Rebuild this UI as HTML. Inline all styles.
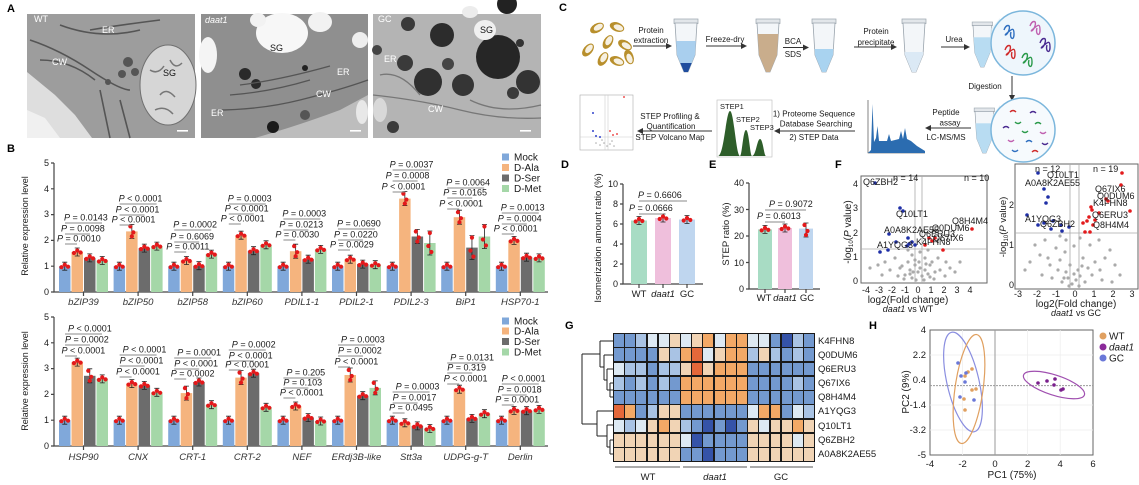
<!DOCTYPE html>
<html><head><meta charset="utf-8"><style>
html,body{margin:0;padding:0;background:#fff;}
body{width:1139px;height:485px;position:relative;overflow:hidden;font-family:"Liberation Sans",sans-serif;}
svg{position:absolute;left:0;top:0;}
text{font-family:"Liberation Sans",sans-serif;font-size:9px;fill:#1a1a1a;}
.i{font-style:italic;}
.L{font-size:11px;font-weight:bold;fill:#000;}
.a{fill:#80a8da}.b{fill:#f5b47e}.c{fill:#6c6c6c}.d{fill:#a5d7a8}
.ul{stroke:#8a8a8a;stroke-width:1;fill:none}
.ax{stroke:#444;stroke-width:1.2;fill:none}
.g{font-style:italic;font-size:9.5px;fill:#333}
.w{fill:#fff;font-size:9px}
.cw text{font-size:8px}
.hm{position:absolute;left:613px;top:333px;width:202px;height:129px;display:grid;grid-template-columns:repeat(18,1fr);grid-template-rows:repeat(9,1fr);gap:1.3px;background:#1a1a1a;padding:1px;box-sizing:border-box;}
.hm i{display:block}
.D{background:#3553a8}.M{background:#7399cf}.B{background:#a9c3e4}.V{background:#dde9f3}.O1{background:#f1d4b5}.O{background:#f3a966}.R{background:#e4683a}
</style></head><body>
<svg width="1139" height="485" viewBox="0 0 1139 485" xmlns="http://www.w3.org/2000/svg">
<defs>
<g id="e"><path d="M0,-4V4M-2.5,-4H2.5M-2.5,4H2.5" stroke="#222" stroke-width=".8" fill="none"/><circle cx="-3.3" cy="1" r="2.1" fill="#e3191b"/><circle cx="0" cy="-1.5" r="2.1" fill="#e3191b"/><circle cx="3.3" cy=".5" r="2.1" fill="#e3191b"/></g>
<g id="m"><path d="M0,-7V7M-2.5,-7H2.5M-2.5,7H2.5" stroke="#222" stroke-width=".8" fill="none"/><circle cx="-1.5" cy="-5" r="2.1" fill="#e3191b"/><circle cx="1.5" cy="1" r="2.1" fill="#e3191b"/><circle cx="0" cy="5" r="2.1" fill="#e3191b"/></g>
<g id="E"><path d="M0,-12V12M-2.5,-12H2.5M-2.5,12H2.5" stroke="#222" stroke-width=".8" fill="none"/><circle cx="0" cy="-10" r="2.1" fill="#e3191b"/><circle cx="-1.5" cy="3" r="2.1" fill="#e3191b"/><circle cx="1.5" cy="9" r="2.1" fill="#e3191b"/></g>
<marker id="ar" markerWidth="6" markerHeight="6" refX="5" refY="3" orient="auto"><path d="M0,0L6,3L0,6Z" fill="#333"/></marker>
<clipPath id="tb"><path d="M0,4H22L20,36L13,53H9L2,36Z"/></clipPath>
<g id="tube"><rect x="-1" y="0" width="24" height="4.5" fill="#e2e6ea" stroke="#9aa4ad" stroke-width=".7"/><path d="M0,4H22L20,36L13,53H9L2,36Z" fill="#f3f6f9" stroke="#9aa4ad" stroke-width=".8"/></g>
</defs>

<!-- Panel labels -->
<text class="L" x="7" y="12">A</text>
<text class="L" x="7" y="152">B</text>
<text class="L" x="559" y="11">C</text>
<text class="L" x="561" y="168">D</text>
<text class="L" x="709" y="168">E</text>
<text class="L" x="835" y="168">F</text>
<text class="L" x="565" y="329">G</text>
<text class="L" x="869" y="329">H</text>

<!-- Panel A: TEM images -->
<g>
<rect x="27" y="14" width="168" height="124" fill="#9d9d9d"/>
<path d="M27,72 L55,95 L75,115 L92,138 L27,138Z" fill="#dedede"/>
<path d="M27,110 L45,118 L60,138 L27,138Z" fill="#f0f0f0"/>
<ellipse cx="168" cy="85" rx="28" ry="40" fill="#d6d6d6" stroke="#707070" stroke-width="1"/>
<path d="M150,70 q8,5 14,-4 M160,95 q6,-8 15,2 M170,60 q5,10 12,3 M155,110 q10,-5 18,4" stroke="#777" stroke-width="1.5" fill="none"/>
<path d="M30,40 Q60,50 90,70 T130,90 M40,60 Q70,60 95,80 M90,30 Q120,25 160,20 M60,25 Q100,40 140,30 M120,100 L130,138 M100,90 L110,138" stroke="#555" stroke-width="1.6" fill="none"/>
<circle cx="128" cy="62" r="5" fill="#555"/><circle cx="135" cy="72" r="4" fill="#555"/><circle cx="122" cy="74" r="4" fill="#555"/><circle cx="108" cy="82" r="3" fill="#555"/>
<rect x="177" y="130" width="11" height="1.6" fill="#fff"/>
<text class="w" x="34" y="22">WT</text><text class="w" x="102" y="33">ER</text><text class="w" x="52" y="65">CW</text><text x="163" y="76" style="font-size:9px;fill:#111">SG</text>

<rect x="201" y="14" width="167" height="124" fill="#8f8f8f"/>
<path d="M255,138 Q300,125 340,110 L368,95 L368,138Z" fill="#bdbdbd"/>
<ellipse cx="282" cy="33" rx="26" ry="20" fill="#f7f7f7"/>
<ellipse cx="320" cy="22" rx="12" ry="10" fill="#f2f2f2"/>
<ellipse cx="258" cy="20" rx="8" ry="7" fill="#f2f2f2"/>
<ellipse cx="208" cy="55" rx="9" ry="18" fill="#f4f4f4"/>
<ellipse cx="360" cy="40" rx="8" ry="8" fill="#eee"/>
<ellipse cx="362" cy="112" rx="6" ry="12" fill="#e8e8e8"/>
<circle cx="245" cy="74" r="6" fill="#2a2a2a"/><circle cx="256" cy="84" r="5" fill="#2a2a2a"/><circle cx="273" cy="127" r="6" fill="#1a1a1a"/><circle cx="305" cy="68" r="3" fill="#222"/><circle cx="305" cy="115" r="5" fill="#555"/>
<path d="M215,110 Q260,110 300,100 T368,80 M230,95 Q270,92 310,80 M240,85 Q280,80 330,66" stroke="#555" stroke-width="1.3" fill="none"/>
<rect x="350" y="130" width="11" height="1.6" fill="#fff"/>
<text class="w i" x="205" y="23">daat1</text><text x="270" y="51" style="font-size:9px;fill:#111">SG</text><text class="w" x="337" y="75">ER</text><text class="w" x="316" y="97">CW</text><text class="w" x="211" y="116">ER</text>

<rect x="373" y="14" width="168" height="124" fill="#b4b4b4"/>
<circle cx="408" cy="24" r="7" fill="#3a3a3a"/><circle cx="442" cy="35" r="12" fill="#2c2c2c"/><circle cx="405" cy="63" r="8" fill="#3a3a3a"/><circle cx="428" cy="82" r="14" fill="#303030"/><circle cx="448" cy="64" r="6" fill="#444"/><circle cx="463" cy="85" r="11" fill="#353535"/><circle cx="393" cy="127" r="6" fill="#3a3a3a"/><circle cx="377" cy="50" r="5" fill="#444"/>
<circle cx="498" cy="57" r="22" fill="#262626"/><circle cx="528" cy="82" r="12" fill="#333"/><circle cx="513" cy="93" r="6" fill="#3a3a3a"/><circle cx="520" cy="43" r="4" fill="#333"/><circle cx="507" cy="4" r="10" fill="#222"/>
<ellipse cx="485" cy="30" rx="11" ry="10" fill="#f0f0f0"/><ellipse cx="470" cy="12" rx="8" ry="6" fill="#ececec"/>
<ellipse cx="380" cy="110" rx="7" ry="12" fill="#d8d8d8"/>
<path d="M373,95 Q420,100 460,110 T541,118 M380,75 Q400,70 420,95 M470,100 Q500,115 541,105" stroke="#777" stroke-width="1.3" fill="none"/>
<rect x="520" y="130" width="11" height="1.6" fill="#fff"/>
<text class="w" x="378" y="22">GC</text><text x="480" y="33" style="font-size:9px;fill:#111">SG</text><text class="w" x="384" y="62">ER</text><text class="w" x="428" y="112">CW</text>
</g>

<!-- Panel B top chart -->
<text transform="translate(28,226) rotate(-90)" text-anchor="middle">Relative expression level</text>
<path class="ax" d="M54,163V292H548"/>
<path class="ax" d="M51,292H54M51,266.2H54M51,240.4H54M51,214.6H54M51,188.8H54M51,163H54M83.5,292V296M138.1,292V296M192.7,292V296M247.3,292V296M301.9,292V296M356.5,292V296M411.1,292V296M465.7,292V296M520.3,292V296"/>
<g text-anchor="end"><text x="49" y="295">0</text><text x="49" y="269">1</text><text x="49" y="243">2</text><text x="49" y="217">3</text><text x="49" y="192">4</text><text x="49" y="166">5</text></g>
<g text-anchor="middle"><text class="g" x="83.5" y="305">bZIP39</text><text class="g" x="138.1" y="305">bZIP50</text><text class="g" x="192.7" y="305">bZIP58</text><text class="g" x="247.3" y="305">bZIP60</text><text class="g" x="301.9" y="305">PDIL1-1</text><text class="g" x="356.5" y="305">PDIL2-1</text><text class="g" x="411.1" y="305">PDIL2-3</text><text class="g" x="465.7" y="305">BiP1</text><text class="g" x="520.3" y="305">HSP70-1</text></g>

<g transform="translate(59,0)"><rect class="a" x="0" y="266.2" width="11.5" height="25.8"/><rect class="b" x="12.5" y="252" width="11.5" height="40"/><rect class="c" x="25" y="257.9" width="11.5" height="34.1"/><rect class="d" x="37.5" y="260.5" width="11.5" height="31.5"/><use href="#e" x="5.75" y="266.2"/><use href="#e" x="18.25" y="252"/><use href="#e" x="30.75" y="257.9"/><use href="#e" x="43.25" y="260.5"/></g>
<g transform="translate(113.6,0)"><rect class="a" x="0" y="266.2" width="11.5" height="25.8"/><rect class="b" x="12.5" y="231.4" width="11.5" height="60.6"/><rect class="c" x="25" y="248.1" width="11.5" height="43.9"/><rect class="d" x="37.5" y="246.1" width="11.5" height="45.9"/><use href="#e" x="5.75" y="266.2"/><use href="#m" x="18.25" y="231.4"/><use href="#e" x="30.75" y="248.1"/><use href="#e" x="43.25" y="246.1"/></g>
<g transform="translate(168.2,0)"><rect class="a" x="0" y="266.2" width="11.5" height="25.8"/><rect class="b" x="12.5" y="260.5" width="11.5" height="31.5"/><rect class="c" x="25" y="265.7" width="11.5" height="26.3"/><rect class="d" x="37.5" y="254.1" width="11.5" height="37.9"/><use href="#e" x="5.75" y="266.2"/><use href="#e" x="18.25" y="260.5"/><use href="#e" x="30.75" y="265.7"/><use href="#e" x="43.25" y="254.1"/></g>
<g transform="translate(222.8,0)"><rect class="a" x="0" y="266.2" width="11.5" height="25.8"/><rect class="b" x="12.5" y="235.2" width="11.5" height="56.8"/><rect class="c" x="25" y="250.7" width="11.5" height="41.3"/><rect class="d" x="37.5" y="244.8" width="11.5" height="47.2"/><use href="#e" x="5.75" y="266.2"/><use href="#e" x="18.25" y="235.2"/><use href="#e" x="30.75" y="250.7"/><use href="#e" x="43.25" y="244.8"/></g>
<g transform="translate(277.4,0)"><rect class="a" x="0" y="266.2" width="11.5" height="25.8"/><rect class="b" x="12.5" y="251.2" width="11.5" height="40.8"/><rect class="c" x="25" y="259.2" width="11.5" height="32.8"/><rect class="d" x="37.5" y="249.4" width="11.5" height="42.6"/><use href="#e" x="5.75" y="266.2"/><use href="#m" x="18.25" y="251.2"/><use href="#e" x="30.75" y="259.2"/><use href="#e" x="43.25" y="249.4"/></g>
<g transform="translate(332,0)"><rect class="a" x="0" y="266.2" width="11.5" height="25.8"/><rect class="b" x="12.5" y="259.2" width="11.5" height="32.8"/><rect class="c" x="25" y="264.1" width="11.5" height="27.9"/><rect class="d" x="37.5" y="264.7" width="11.5" height="27.3"/><use href="#e" x="5.75" y="266.2"/><use href="#e" x="18.25" y="259.2"/><use href="#e" x="30.75" y="264.1"/><use href="#e" x="43.25" y="264.7"/></g>
<g transform="translate(386.6,0)"><rect class="a" x="0" y="266.2" width="11.5" height="25.8"/><rect class="b" x="12.5" y="198.6" width="11.5" height="93.4"/><rect class="c" x="25" y="236.5" width="11.5" height="55.5"/><rect class="d" x="37.5" y="243" width="11.5" height="49"/><use href="#e" x="5.75" y="266.2"/><use href="#m" x="18.25" y="198.6"/><use href="#m" x="30.75" y="236.5"/><use href="#E" x="43.25" y="243"/></g>
<g transform="translate(441.2,0)"><rect class="a" x="0" y="266.2" width="11.5" height="25.8"/><rect class="b" x="12.5" y="217.2" width="11.5" height="74.8"/><rect class="c" x="25" y="247.6" width="11.5" height="44.4"/><rect class="d" x="37.5" y="236.5" width="11.5" height="55.5"/><use href="#e" x="5.75" y="266.2"/><use href="#m" x="18.25" y="217.2"/><use href="#E" x="30.75" y="247.6"/><use href="#E" x="43.25" y="236.5"/></g>
<g transform="translate(495.8,0)"><rect class="a" x="0" y="266.2" width="11.5" height="25.8"/><rect class="b" x="12.5" y="240.4" width="11.5" height="51.6"/><rect class="c" x="25" y="257.2" width="11.5" height="34.8"/><rect class="d" x="37.5" y="257.9" width="11.5" height="34.1"/><use href="#e" x="5.75" y="266.2"/><use href="#e" x="18.25" y="240.4"/><use href="#e" x="30.75" y="257.2"/><use href="#e" x="43.25" y="257.9"/></g>

<!-- Top P values -->
<path class="ul" d="M65,223H102M65,234H90M65,244H77 M119.6,204H156.6M119.6,215H144.6M119.6,225H131.6 M174.2,230H211.2M174.2,242H199.2M174.2,252H186.2 M228.8,204H265.8M228.8,214H253.8M228.8,224H240.8 M283.4,219H320.4M283.4,230H308.4M283.4,240H295.4 M338,229H375M338,240H363M338,250H350 M392.6,170H429.6M392.6,181H417.6M392.6,192H404.6 M447.2,188H484.2M447.2,198H472.2M447.2,209H459.2 M501.8,213H538.8M501.8,224H526.8M501.8,234H513.8"/>
<text x="64" y="220.5"><tspan class="i">P</tspan> = 0.0143</text><text x="61" y="231.5"><tspan class="i">P</tspan> = 0.0098</text><text x="57" y="241.5"><tspan class="i">P</tspan> = 0.0010</text>
<text x="118.6" y="201.5"><tspan class="i">P</tspan> &lt; 0.0001</text><text x="115.6" y="212.5"><tspan class="i">P</tspan> &lt; 0.0001</text><text x="111.6" y="222.5"><tspan class="i">P</tspan> &lt; 0.0001</text>
<text x="173.2" y="227.5"><tspan class="i">P</tspan> = 0.0002</text><text x="170.2" y="239.5"><tspan class="i">P</tspan> = 0.6069</text><text x="166.2" y="249.5"><tspan class="i">P</tspan> = 0.0011</text>
<text x="227.8" y="201.5"><tspan class="i">P</tspan> = 0.0003</text><text x="224.8" y="211.5"><tspan class="i">P</tspan> &lt; 0.0001</text><text x="220.8" y="221.5"><tspan class="i">P</tspan> &lt; 0.0001</text>
<text x="282.4" y="216.5"><tspan class="i">P</tspan> = 0.0003</text><text x="279.4" y="227.5"><tspan class="i">P</tspan> = 0.0213</text><text x="275.4" y="237.5"><tspan class="i">P</tspan> = 0.0030</text>
<text x="337" y="226.5"><tspan class="i">P</tspan> = 0.0690</text><text x="334" y="237.5"><tspan class="i">P</tspan> = 0.0220</text><text x="330" y="247.5"><tspan class="i">P</tspan> = 0.0029</text>
<text x="389.6" y="167.5"><tspan class="i">P</tspan> = 0.0037</text><text x="385.6" y="178.5"><tspan class="i">P</tspan> = 0.0008</text><text x="381.6" y="189.5"><tspan class="i">P</tspan> &lt; 0.0001</text>
<text x="446.2" y="185.5"><tspan class="i">P</tspan> = 0.0064</text><text x="443.2" y="195.5"><tspan class="i">P</tspan> = 0.0165</text><text x="439.2" y="206.5"><tspan class="i">P</tspan> &lt; 0.0001</text>
<text x="500.8" y="210.5"><tspan class="i">P</tspan> = 0.0013</text><text x="497.8" y="221.5"><tspan class="i">P</tspan> = 0.0004</text><text x="493.8" y="231.5"><tspan class="i">P</tspan> &lt; 0.0001</text>

<!-- Top legend -->
<rect class="a" x="502" y="153.5" width="7" height="7"/><rect class="b" x="502" y="164" width="7" height="7"/><rect class="c" x="502" y="174.5" width="7" height="7"/><rect class="d" x="502" y="185" width="7" height="7"/>
<text x="514" y="160.5" style="font-size:10px">Mock</text><text x="514" y="171" style="font-size:10px">D-Ala</text><text x="514" y="181.5" style="font-size:10px">D-Ser</text><text x="514" y="192" style="font-size:10px">D-Met</text>

<!-- Panel B bottom chart -->
<text transform="translate(28,381) rotate(-90)" text-anchor="middle">Relative expression level</text>
<path class="ax" d="M54,317V446H548"/>
<path class="ax" d="M51,446H54M51,420.2H54M51,394.4H54M51,368.6H54M51,342.8H54M51,317H54M83.5,446V450M138.1,446V450M192.7,446V450M247.3,446V450M301.9,446V450M356.5,446V450M411.1,446V450M465.7,446V450M520.3,446V450"/>
<g text-anchor="end"><text x="49" y="449">0</text><text x="49" y="423">1</text><text x="49" y="397">2</text><text x="49" y="371">3</text><text x="49" y="346">4</text><text x="49" y="320">5</text></g>
<g text-anchor="middle"><text class="g" x="83.5" y="460">HSP90</text><text class="g" x="138.1" y="460">CNX</text><text class="g" x="192.7" y="460">CRT-1</text><text class="g" x="247.3" y="460">CRT-2</text><text class="g" x="301.9" y="460">NEF</text><text class="g" x="356.5" y="460">ERdj3B-like</text><text class="g" x="411.1" y="460">Stt3a</text><text class="g" x="465.7" y="460">UDPG-g-T</text><text class="g" x="520.3" y="460">Derlin</text></g>

<g transform="translate(59,0)"><rect class="a" x="0" y="420.2" width="11.5" height="25.8"/><rect class="b" x="12.5" y="362.1" width="11.5" height="83.9"/><rect class="c" x="25" y="375.8" width="11.5" height="70.2"/><rect class="d" x="37.5" y="378.9" width="11.5" height="67.1"/><use href="#e" x="5.75" y="420.2"/><use href="#e" x="18.25" y="362.1"/><use href="#m" x="30.75" y="375.8"/><use href="#e" x="43.25" y="378.9"/></g>
<g transform="translate(113.6,0)"><rect class="a" x="0" y="420.2" width="11.5" height="25.8"/><rect class="b" x="12.5" y="383.6" width="11.5" height="62.4"/><rect class="c" x="25" y="385.4" width="11.5" height="60.6"/><rect class="d" x="37.5" y="392.3" width="11.5" height="53.7"/><use href="#e" x="5.75" y="420.2"/><use href="#e" x="18.25" y="383.6"/><use href="#e" x="30.75" y="385.4"/><use href="#e" x="43.25" y="392.3"/></g>
<g transform="translate(168.2,0)"><rect class="a" x="0" y="420.2" width="11.5" height="25.8"/><rect class="b" x="12.5" y="393.1" width="11.5" height="52.9"/><rect class="c" x="25" y="382" width="11.5" height="64"/><rect class="d" x="37.5" y="404.7" width="11.5" height="41.3"/><use href="#e" x="5.75" y="420.2"/><use href="#m" x="18.25" y="393.1"/><use href="#e" x="30.75" y="382"/><use href="#e" x="43.25" y="404.7"/></g>
<g transform="translate(222.8,0)"><rect class="a" x="0" y="420.2" width="11.5" height="25.8"/><rect class="b" x="12.5" y="377.6" width="11.5" height="68.4"/><rect class="c" x="25" y="373.2" width="11.5" height="72.8"/><rect class="d" x="37.5" y="407.3" width="11.5" height="38.7"/><use href="#e" x="5.75" y="420.2"/><use href="#m" x="18.25" y="377.6"/><use href="#e" x="30.75" y="373.2"/><use href="#e" x="43.25" y="407.3"/></g>
<g transform="translate(277.4,0)"><rect class="a" x="0" y="420.2" width="11.5" height="25.8"/><rect class="b" x="12.5" y="406" width="11.5" height="40"/><rect class="c" x="25" y="417.6" width="11.5" height="28.4"/><rect class="d" x="37.5" y="421" width="11.5" height="25"/><use href="#e" x="5.75" y="420.2"/><use href="#e" x="18.25" y="406"/><use href="#e" x="30.75" y="417.6"/><use href="#e" x="43.25" y="421"/></g>
<g transform="translate(332,0)"><rect class="a" x="0" y="420.2" width="11.5" height="25.8"/><rect class="b" x="12.5" y="375" width="11.5" height="71"/><rect class="c" x="25" y="395.7" width="11.5" height="50.3"/><rect class="d" x="37.5" y="387.9" width="11.5" height="58.1"/><use href="#e" x="5.75" y="420.2"/><use href="#m" x="18.25" y="375"/><use href="#e" x="30.75" y="395.7"/><use href="#m" x="43.25" y="387.9"/></g>
<g transform="translate(386.6,0)"><rect class="a" x="0" y="420.2" width="11.5" height="25.8"/><rect class="b" x="12.5" y="422.8" width="11.5" height="23.2"/><rect class="c" x="25" y="425.9" width="11.5" height="20.1"/><rect class="d" x="37.5" y="428.5" width="11.5" height="17.5"/><use href="#e" x="5.75" y="420.2"/><use href="#e" x="18.25" y="422.8"/><use href="#e" x="30.75" y="425.9"/><use href="#e" x="43.25" y="428.5"/></g>
<g transform="translate(441.2,0)"><rect class="a" x="0" y="420.2" width="11.5" height="25.8"/><rect class="b" x="12.5" y="389.2" width="11.5" height="56.8"/><rect class="c" x="25" y="418.4" width="11.5" height="27.6"/><rect class="d" x="37.5" y="413.7" width="11.5" height="32.3"/><use href="#e" x="5.75" y="420.2"/><use href="#e" x="18.25" y="389.2"/><use href="#e" x="30.75" y="418.4"/><use href="#e" x="43.25" y="413.7"/></g>
<g transform="translate(495.8,0)"><rect class="a" x="0" y="420.2" width="11.5" height="25.8"/><rect class="b" x="12.5" y="410.4" width="11.5" height="35.6"/><rect class="c" x="25" y="410.7" width="11.5" height="35.3"/><rect class="d" x="37.5" y="409.4" width="11.5" height="36.6"/><use href="#e" x="5.75" y="420.2"/><use href="#e" x="18.25" y="410.4"/><use href="#e" x="30.75" y="410.7"/><use href="#e" x="43.25" y="409.4"/></g>

<!-- Bottom P values -->
<path class="ul" d="M65,334H102M65,345H90M65,356H77 M119.6,355H156.6M119.6,366H144.6M119.6,377H131.6 M174.2,358H211.2M174.2,369H199.2M174.2,379H186.2 M228.8,350H265.8M228.8,361H253.8M228.8,370H240.8 M283.4,378H320.4M283.4,388H308.4M283.4,398H295.4 M338,345H375M338,356H363M338,367H350 M392.6,392H429.6M392.6,403H417.6M392.6,413H404.6 M447.2,363H484.2M447.2,373H472.2M447.2,384H459.2 M501.8,384H538.8M501.8,395H526.8M501.8,405H513.8"/>
<text x="68" y="331.5"><tspan class="i">P</tspan> &lt; 0.0001</text><text x="65" y="342.5"><tspan class="i">P</tspan> = 0.0002</text><text x="61.5" y="353.5"><tspan class="i">P</tspan> &lt; 0.0001</text>
<text x="122.6" y="352.5"><tspan class="i">P</tspan> &lt; 0.0001</text><text x="119.6" y="363.5"><tspan class="i">P</tspan> &lt; 0.0001</text><text x="116.1" y="374.5"><tspan class="i">P</tspan> &lt; 0.0001</text>
<text x="177.2" y="355.5"><tspan class="i">P</tspan> = 0.0001</text><text x="174.2" y="366.5"><tspan class="i">P</tspan> &lt; 0.0001</text><text x="170.7" y="376.5"><tspan class="i">P</tspan> = 0.0002</text>
<text x="231.8" y="347.5"><tspan class="i">P</tspan> = 0.0002</text><text x="228.8" y="358.5"><tspan class="i">P</tspan> &lt; 0.0001</text><text x="225.3" y="367.5"><tspan class="i">P</tspan> &lt; 0.0001</text>
<text x="286.4" y="375.5"><tspan class="i">P</tspan> = 0.205</text><text x="283.4" y="385.5"><tspan class="i">P</tspan> = 0.103</text><text x="279.9" y="395.5"><tspan class="i">P</tspan> &lt; 0.0001</text>
<text x="341" y="342.5"><tspan class="i">P</tspan> = 0.0003</text><text x="338" y="353.5"><tspan class="i">P</tspan> = 0.0002</text><text x="334.5" y="364.5"><tspan class="i">P</tspan> &lt; 0.0001</text>
<text x="395.6" y="389.5"><tspan class="i">P</tspan> = 0.0003</text><text x="392.6" y="400.5"><tspan class="i">P</tspan> = 0.0017</text><text x="389.1" y="410.5"><tspan class="i">P</tspan> = 0.0495</text>
<text x="450.2" y="360.5"><tspan class="i">P</tspan> = 0.0131</text><text x="447.2" y="370.5"><tspan class="i">P</tspan> = 0.319</text><text x="443.7" y="381.5"><tspan class="i">P</tspan> &lt; 0.0001</text>
<text x="501.8" y="381.5"><tspan class="i">P</tspan> &lt; 0.0001</text><text x="497.8" y="392.5"><tspan class="i">P</tspan> = 0.0018</text><text x="495.3" y="402.5"><tspan class="i">P</tspan> = 0.0001</text>

<!-- Bottom legend -->
<rect class="a" x="502" y="317.5" width="7" height="7"/><rect class="b" x="502" y="327.5" width="7" height="7"/><rect class="c" x="502" y="338" width="7" height="7"/><rect class="d" x="502" y="348.5" width="7" height="7"/>
<text x="514" y="324.5" style="font-size:10px">Mock</text><text x="514" y="334.5" style="font-size:10px">D-Ala</text><text x="514" y="345" style="font-size:10px">D-Ser</text><text x="514" y="355.5" style="font-size:10px">D-Met</text>

<!-- Panel C workflow -->
<g>
<g transform="translate(597,28) rotate(-30)"><ellipse rx="7.5" ry="4.5" fill="#b88f2c"/><ellipse cx="1.5" rx="5" ry="2.8" fill="#f6f0e2"/></g>
<g transform="translate(617,27) rotate(20)"><ellipse rx="7.5" ry="4.5" fill="#b88f2c"/><ellipse cx="1.5" rx="5" ry="2.8" fill="#f6f0e2"/></g>
<g transform="translate(608,42) rotate(-60)"><ellipse rx="7.5" ry="4.5" fill="#b88f2c"/><ellipse cx="1.5" rx="5" ry="2.8" fill="#f6f0e2"/></g>
<g transform="translate(588,50) rotate(-50)"><ellipse rx="7.5" ry="4.5" fill="#b88f2c"/><ellipse cx="1.5" rx="5" ry="2.8" fill="#f6f0e2"/></g>
<g transform="translate(625,45) rotate(30)"><ellipse rx="7.5" ry="4.5" fill="#b88f2c"/><ellipse cx="1.5" rx="5" ry="2.8" fill="#f6f0e2"/></g>
<g transform="translate(603,59) rotate(-60)"><ellipse rx="7.5" ry="4.5" fill="#b88f2c"/><ellipse cx="1.5" rx="5" ry="2.8" fill="#f6f0e2"/></g>
<g transform="translate(617,61) rotate(20)"><ellipse rx="7.5" ry="4.5" fill="#b88f2c"/><ellipse cx="1.5" rx="5" ry="2.8" fill="#f6f0e2"/></g>
<g transform="translate(629,57) rotate(70)"><ellipse rx="7.5" ry="4.5" fill="#b88f2c"/><ellipse cx="1.5" rx="5" ry="2.8" fill="#f6f0e2"/></g>

<g text-anchor="middle" class="cw">
<text x="651" y="33">Protein</text><text x="651" y="43">extraction</text>
<text x="725" y="42">Freeze-dry</text>
<text x="793" y="44">BCA</text><text x="793" y="57">SDS</text>
<text x="876" y="34">Protein</text><text x="876" y="45">precipitate</text>
<text x="954" y="42">Urea</text>
<text x="985" y="89">Digestion</text>
<text x="946" y="115">Peptide</text><text x="950" y="125.5">assay</text><text x="946" y="140">LC-MS/MS</text>
<text x="814" y="116.5">1) Proteome Sequence</text><text x="816" y="126.5">Database Searching</text><text x="814" y="140">2) STEP Data</text>
<text x="670" y="119">STEP Profiling &amp;</text><text x="671" y="129">Quantification</text><text x="670" y="140">STEP Volcano Map</text>
</g>
<g stroke="#333" stroke-width="1" marker-end="url(#ar)">
<line x1="633" y1="46" x2="671" y2="46"/><line x1="706" y1="46" x2="746" y2="46"/><line x1="783" y1="47.5" x2="808" y2="47.5"/><line x1="854" y1="47" x2="896" y2="47"/><line x1="941" y1="47" x2="969" y2="47"/>
<line x1="1012" y1="76" x2="1012" y2="100"/>
<line x1="971" y1="128" x2="926" y2="128"/><line x1="855" y1="131" x2="775" y2="131"/><line x1="712" y1="131" x2="638" y2="131"/>
</g>

<g transform="translate(675,19)"><use href="#tube"/><g clip-path="url(#tb)"><rect x="0" y="22" width="22" height="32" fill="#a9cfee"/><rect x="0" y="44" width="22" height="10" fill="#1f4d9e"/></g></g>
<g transform="translate(757,19)"><use href="#tube"/><g clip-path="url(#tb)"><rect x="0" y="15" width="22" height="40" fill="#c9ad8c"/></g></g>
<g transform="translate(813,19)"><use href="#tube"/><g clip-path="url(#tb)"><rect x="0" y="30" width="22" height="25" fill="#a9d3f0"/></g></g>
<g transform="translate(903,19)"><use href="#tube"/><g clip-path="url(#tb)"><rect x="0" y="33" width="22" height="22" fill="#dbe9f5"/></g></g>
<g transform="translate(973,22) scale(0.85)"><use href="#tube"/><g clip-path="url(#tb)"><rect x="0" y="18" width="22" height="37" fill="#b8dcf2"/></g></g>
<g transform="translate(975,108) scale(0.85)"><use href="#tube"/><g clip-path="url(#tb)"><rect x="0" y="18" width="22" height="37" fill="#b8dcf2"/></g></g>
<path d="M990,30 L1000,18 L1000,68 L990,48Z" fill="#dcecf7" opacity=".7"/>
<path d="M992,116 L1000,105 L1000,155 L992,136Z" fill="#dcecf7" opacity=".7"/>
<circle cx="1023" cy="43" r="32" fill="#eef6fc" stroke="#7bb6dc" stroke-width="1.5"/>
<g fill="none" stroke-width="1.4">
<path d="M1004,30 c2,-6 7,-6 5,0 s-6,6 -2,3 s7,-7 7,1 s-5,4 -3,-2" stroke="#2f6fc0"/>
<path d="M1030,26 c2,-6 7,-6 5,0 s-6,6 -2,3 s7,-7 7,1 s-5,4 -3,-2" stroke="#c060b0"/>
<path d="M1005,50 c2,-6 7,-6 5,0 s-6,6 -2,3 s7,-7 7,1 s-5,4 -3,-2" stroke="#d02b2b"/>
<path d="M1040,43 c2,-6 7,-6 5,0 s-6,6 -2,3 s7,-7 7,1 s-5,4 -3,-2" stroke="#4a2a90"/>
<path d="M1022,58 c2,-6 7,-6 5,0 s-6,6 -2,3 s7,-7 7,1 s-5,4 -3,-2" stroke="#2a9a4a"/>
</g>
<circle cx="1023" cy="130" r="32" fill="#f6fafd" stroke="#7bb6dc" stroke-width="1.5"/>
<g fill="none" stroke-width="1.4">
<path d="M1010,112 q3,-3 6,0" stroke="#d02b2b"/><path d="M1030,113 q3,-3 6,0" stroke="#4a2a90"/><path d="M1015,122 q3,3 6,0" stroke="#2a9a4a"/><path d="M1035,124 q3,-3 6,0" stroke="#2a9a4a"/>
<path d="M1003,128 q3,-3 6,0" stroke="#4a2a90"/><path d="M1022,131 q3,3 6,0" stroke="#2a9a4a"/><path d="M1040,132 q3,3 6,0" stroke="#c060b0"/><path d="M1008,140 q3,3 6,0" stroke="#c060b0"/>
<path d="M1026,142 q3,-3 6,0" stroke="#2f6fc0"/><path d="M1012,150 q3,3 6,0" stroke="#2f6fc0"/><path d="M1032,152 q3,-3 6,0" stroke="#d02b2b"/><path d="M1042,143 q3,3 6,0" stroke="#4a2a90"/>
</g>

<path d="M868,100V153H925" stroke="#333" stroke-width=".6" fill="none"/>
<path d="M868,153 L871,150 L872.5,104 L874,142 L876,138 L877.5,126 L879,141 L887,141 L889,134 L891,141 L899,139 L901,131 L903,139 L905,128 L907,139 L911,141 L917,146 L925,151 L925,153Z" fill="#2b6cb0"/>

<rect x="717" y="100" width="55" height="57" fill="#fff" stroke="#bbb" stroke-width=".6"/>
<path d="M718,156 C724,156 726,111 730,111 C734,111 736,156 740,156 C742,156 743,130 746,130 C749,130 750,156 752,156 C756,156 757,139 760,139 C763,139 764,156 766,156Z" fill="#2e5e2a"/>
<text x="720" y="109" style="font-size:7.5px">STEP1</text><text x="736" y="122" style="font-size:7.5px">STEP2</text><text x="750" y="130" style="font-size:7.5px">STEP3</text>

<rect x="580" y="95" width="53" height="55" fill="#fff" stroke="#aaa" stroke-width=".6"/>
<path d="M605,95V150M608,95V150M580,137H633" stroke="#ccc" stroke-width=".6"/>
<g fill="#aaa"><circle cx="600" cy="145" r=".8"/><circle cx="604" cy="143" r=".8"/><circle cx="607" cy="146" r=".8"/><circle cx="610" cy="144" r=".8"/><circle cx="602" cy="140" r=".8"/><circle cx="612" cy="141" r=".8"/><circle cx="596" cy="143" r=".8"/><circle cx="614" cy="146" r=".8"/></g>
<g fill="#3344cc"><circle cx="593" cy="113" r="1"/><circle cx="593" cy="131" r="1"/><circle cx="596" cy="136" r="1"/><circle cx="600" cy="137" r="1"/></g>
<g fill="#ee5555"><circle cx="624" cy="97" r="1"/><circle cx="610" cy="131" r="1"/><circle cx="613" cy="135" r="1"/><circle cx="617" cy="134" r="1"/></g>
</g>

<!-- Panel D -->
<text transform="translate(601,238) rotate(-90)" text-anchor="middle" style="font-size:9.5px">Isomerization amount ratio (%)</text>
<path class="ax" d="M623,184V284H703"/>
<path class="ax" d="M620,284H623M620,264H623M620,244H623M620,224H623M620,204H623M620,184H623M639,284V288M663,284V288M687,284V288"/>
<g text-anchor="end"><text x="618" y="287">0</text><text x="618" y="267">2</text><text x="618" y="247">4</text><text x="618" y="227">6</text><text x="618" y="207">8</text><text x="618" y="187">10</text></g>
<rect x="631" y="220.5" width="16" height="63.5" fill="#a8dcc4"/><rect x="655" y="218" width="16" height="66" fill="#efbfdc"/><rect x="679" y="219.5" width="16" height="64.5" fill="#bfd6ef"/>
<use href="#e" x="639" y="220.5"/><use href="#e" x="663" y="218"/><use href="#e" x="687" y="219.5"/>
<g text-anchor="middle"><text x="639" y="297" style="font-size:9.5px">WT</text><text class="i" x="663" y="297" style="font-size:9.5px">daat1</text><text x="687" y="297" style="font-size:9.5px">GC</text></g>
<path class="ul" d="M639,201H687M639,214H663"/>
<text x="638" y="198"><tspan class="i">P</tspan> = 0.6606</text><text x="629" y="211"><tspan class="i">P</tspan> = 0.0666</text>

<!-- Panel E -->
<text transform="translate(729,234) rotate(-90)" text-anchor="middle" style="font-size:9.5px">STEP ratio (%)</text>
<path class="ax" d="M749,183V289H820"/>
<path class="ax" d="M746,289H749M746,262.5H749M746,236H749M746,209.5H749M746,183H749M765,289V293M785,289V293M806,289V293"/>
<g text-anchor="end"><text x="744" y="292">0</text><text x="744" y="266">10</text><text x="744" y="239">20</text><text x="744" y="213">30</text><text x="744" y="186">40</text></g>
<rect x="758" y="229.4" width="14" height="59.6" fill="#a8dcc4"/><rect x="778" y="228" width="14" height="61" fill="#efbfdc"/><rect x="799" y="228.6" width="14" height="60.4" fill="#bfd6ef"/>
<use href="#e" x="765" y="229.4"/><use href="#e" x="785" y="228"/><use href="#m" x="806" y="230"/>
<g text-anchor="middle"><text x="764" y="301" style="font-size:9.5px">WT</text><text class="i" x="785" y="301" style="font-size:9.5px">daat1</text><text x="807" y="301" style="font-size:9.5px">GC</text></g>
<path class="ul" d="M765,210H806M765,222H785"/>
<text x="769" y="207"><tspan class="i">P</tspan> = 0.9072</text><text x="757" y="219"><tspan class="i">P</tspan> = 0.6013</text>

<!-- Panel F left volcano -->
<rect x="861" y="176" width="126" height="107" fill="none" stroke="#666" stroke-width="1"/>
<path d="M915,176V283M922,176V283M861,249H987" stroke="#aaa" stroke-width=".8"/>
<g text-anchor="end"><text x="858" y="284">0</text><text x="858" y="260">1</text><text x="858" y="236">2</text><text x="858" y="211">3</text><text x="858" y="187">4</text></g>
<g text-anchor="middle"><text x="866" y="293">-4</text><text x="879" y="293">-3</text><text x="892" y="293">-2</text><text x="905" y="293">-1</text><text x="918" y="293">0</text><text x="931" y="293">1</text><text x="944" y="293">2</text><text x="957" y="293">3</text><text x="970" y="293">4</text>
<text x="908" y="303" style="font-size:10px">log2(Fold change)</text><text x="908" y="312"><tspan class="i">daat1</tspan> vs WT</text></g>
<text transform="translate(851,232) rotate(-90)" text-anchor="middle" style="font-size:10px">-log<tspan style="font-size:6px" dy="2">10</tspan><tspan dy="-2">(</tspan><tspan class="i">P</tspan> value)</text>
<g fill="#aaa"><circle cx="905" cy="275" r="1.6"/><circle cx="910" cy="270" r="1.6"/><circle cx="912" cy="278" r="1.6"/><circle cx="915" cy="265" r="1.6"/><circle cx="918" cy="272" r="1.6"/><circle cx="920" cy="268" r="1.6"/><circle cx="922" cy="276" r="1.6"/><circle cx="925" cy="270" r="1.6"/><circle cx="928" cy="274" r="1.6"/><circle cx="915" cy="260" r="1.6"/><circle cx="908" cy="262" r="1.6"/><circle cx="930" cy="265" r="1.6"/><circle cx="935" cy="272" r="1.6"/><circle cx="900" cy="268" r="1.6"/><circle cx="912" cy="255" r="1.6"/><circle cx="925" cy="258" r="1.6"/><circle cx="932" cy="262" r="1.6"/><circle cx="940" cy="270" r="1.6"/><circle cx="945" cy="276" r="1.6"/><circle cx="898" cy="276" r="1.6"/><circle cx="890" cy="270" r="1.6"/><circle cx="885" cy="262" r="1.6"/><circle cx="882" cy="275" r="1.6"/><circle cx="878" cy="265" r="1.6"/><circle cx="950" cy="268" r="1.6"/><circle cx="955" cy="272" r="1.6"/><circle cx="960" cy="262" r="1.6"/><circle cx="895" cy="258" r="1.6"/><circle cx="938" cy="258" r="1.6"/><circle cx="920" cy="252" r="1.6"/><circle cx="908" cy="250" r="1.6"/><circle cx="928" cy="250" r="1.6"/><circle cx="870" cy="268" r="1.6"/><circle cx="946" cy="262" r="1.6"/><circle cx="916" cy="280" r="1.6"/><circle cx="904" cy="279" r="1.6"/><circle cx="924" cy="280" r="1.6"/><circle cx="934" cy="279" r="1.6"/><circle cx="913" cy="272" r="1.6"/><circle cx="919" cy="262" r="1.6"/><circle cx="902" cy="266" r="1.6"/><circle cx="926" cy="264" r="1.6"/><circle cx="910" cy="274" r="1.6"/><circle cx="930" cy="277" r="1.6"/></g>
<g fill="#1f2fa6"><circle cx="875" cy="183" r="1.8"/><circle cx="900" cy="208" r="1.8"/><circle cx="903" cy="211" r="1.8"/><circle cx="889" cy="234" r="1.8"/><circle cx="908" cy="238" r="1.8"/><circle cx="896" cy="242" r="1.8"/><circle cx="909" cy="244" r="1.8"/><circle cx="912" cy="242" r="1.8"/><circle cx="907" cy="246" r="1.8"/><circle cx="888" cy="250" r="1.8"/><circle cx="915" cy="245" r="1.8"/><circle cx="880" cy="252" r="1.8"/></g>
<g fill="#e31a1c"><circle cx="972" cy="229" r="1.8"/><circle cx="929" cy="238" r="1.8"/><circle cx="932" cy="241" r="1.8"/><circle cx="935" cy="238" r="1.8"/><circle cx="943" cy="250" r="1.8"/><circle cx="925" cy="245" r="1.8"/></g>
<text x="863" y="185">Q6ZBH2</text><text x="893" y="181">n = 14</text><text x="964" y="181">n = 10</text>
<text x="896" y="217">Q10LT1</text><text x="884" y="233">A0A8K2AE55</text><text x="932" y="231">Q0DUM6</text><text x="919" y="237">Q6ERU3</text><text x="933" y="241">Q67IX6</text><text x="952" y="224">Q8H4M4</text><text x="877" y="248">A1YQG3</text><text x="916" y="245">K4FHN8</text>

<!-- Panel F right volcano -->
<rect x="1015" y="164" width="123" height="125" fill="none" stroke="#666" stroke-width="1"/>
<path d="M1070,164V289M1079,164V289M1015,233H1138" stroke="#aaa" stroke-width=".8"/>
<g text-anchor="end"><text x="1014" y="288">0</text><text x="1014" y="248">1</text><text x="1014" y="208">2</text></g>
<g text-anchor="middle"><text x="1018" y="297">-3</text><text x="1037" y="297">-2</text><text x="1056" y="297">-1</text><text x="1075" y="297">0</text><text x="1094" y="297">1</text><text x="1113" y="297">2</text><text x="1132" y="297">3</text>
<text x="1076" y="307" style="font-size:10px">log2(Fold change)</text><text x="1076" y="316"><tspan class="i">daat1</tspan> vs GC</text></g>
<text transform="translate(1006,227) rotate(-90)" text-anchor="middle" style="font-size:9.5px">-log<tspan style="font-size:6px" dy="2">10</tspan><tspan dy="-2">(</tspan><tspan class="i">P</tspan> value)</text>
<g fill="#aaa"><circle cx="1062" cy="282" r="1.6"/><circle cx="1068" cy="278" r="1.6"/><circle cx="1072" cy="284" r="1.6"/><circle cx="1076" cy="280" r="1.6"/><circle cx="1080" cy="276" r="1.6"/><circle cx="1085" cy="282" r="1.6"/><circle cx="1066" cy="272" r="1.6"/><circle cx="1078" cy="270" r="1.6"/><circle cx="1070" cy="265" r="1.6"/><circle cx="1088" cy="268" r="1.6"/><circle cx="1058" cy="270" r="1.6"/><circle cx="1092" cy="275" r="1.6"/><circle cx="1060" cy="260" r="1.6"/><circle cx="1083" cy="258" r="1.6"/><circle cx="1095" cy="262" r="1.6"/><circle cx="1050" cy="265" r="1.6"/><circle cx="1100" cy="270" r="1.6"/><circle cx="1040" cy="255" r="1.6"/><circle cx="1105" cy="258" r="1.6"/><circle cx="1030" cy="262" r="1.6"/><circle cx="1110" cy="250" r="1.6"/><circle cx="1035" cy="245" r="1.6"/><circle cx="1115" cy="265" r="1.6"/><circle cx="1025" cy="270" r="1.6"/><circle cx="1120" cy="275" r="1.6"/><circle cx="1045" cy="240" r="1.6"/><circle cx="1056" cy="248" r="1.6"/><circle cx="1090" cy="245" r="1.6"/><circle cx="1099" cy="240" r="1.6"/><circle cx="1065" cy="252" r="1.6"/><circle cx="1074" cy="246" r="1.6"/><circle cx="1048" cy="258" r="1.6"/><circle cx="1102" cy="280" r="1.6"/><circle cx="1112" cy="282" r="1.6"/><circle cx="1052" cy="278" r="1.6"/><circle cx="1042" cy="275" r="1.6"/><circle cx="1069" cy="286" r="1.6"/><circle cx="1079" cy="286" r="1.6"/><circle cx="1060" cy="236" r="1.6"/><circle cx="1080" cy="238" r="1.6"/><circle cx="1066" cy="240" r="1.6"/><circle cx="1074" cy="274" r="1.6"/><circle cx="1082" cy="266" r="1.6"/><circle cx="1064" cy="278" r="1.6"/></g>
<g fill="#1f2fa6"><circle cx="1038" cy="173" r="1.8"/><circle cx="1044" cy="189" r="1.8"/><circle cx="1048" cy="197" r="1.8"/><circle cx="1046" cy="203" r="1.8"/><circle cx="1027" cy="215" r="1.8"/><circle cx="1044" cy="223" r="1.8"/><circle cx="1038" cy="225" r="1.8"/><circle cx="1053" cy="221" r="1.8"/><circle cx="1061" cy="225" r="1.8"/><circle cx="1069" cy="227" r="1.8"/><circle cx="1051" cy="229" r="1.8"/><circle cx="1062" cy="231" r="1.8"/></g>
<g fill="#e31a1c"><circle cx="1122" cy="173" r="1.8"/><circle cx="1121" cy="185" r="1.8"/><circle cx="1106" cy="199" r="1.8"/><circle cx="1108" cy="201" r="1.8"/><circle cx="1091" cy="207" r="1.8"/><circle cx="1092" cy="210" r="1.8"/><circle cx="1130" cy="211" r="1.8"/><circle cx="1089" cy="217" r="1.8"/><circle cx="1095" cy="220" r="1.8"/><circle cx="1083" cy="223" r="1.8"/><circle cx="1087" cy="221" r="1.8"/><circle cx="1085" cy="232" r="1.8"/><circle cx="1090" cy="232" r="1.8"/><circle cx="1093" cy="225" r="1.8"/><circle cx="1099" cy="213" r="1.8"/></g>
<text x="1035" y="172">n = 12</text><text x="1093" y="172">n = 19</text>
<text x="1047" y="178">Q10LT1</text><text x="1025" y="186">A0A8K2AE55</text><text x="1095" y="192">Q67IX6</text><text x="1097" y="199">Q0DUM6</text><text x="1093" y="206">K4FHN8</text><text x="1025" y="222">A1YQG3</text><text x="1092" y="218">Q6ERU3</text><text x="1040" y="227">Q6ZBH2</text><text x="1093" y="228">Q8H4M4</text>

<!-- Panel G heatmap extras -->
<g stroke="#222" stroke-width="1" fill="none">
<path d="M610,383V397M610,390H614M610,383H614M610,397H614"/>
<path d="M607,369V390M607,369H614M607,390H610"/>
<path d="M604,355V380M604,355H614M604,380H607"/>
<path d="M600,341V367M600,341H614M600,367H604"/>
<path d="M610,440V454M610,440H614M610,454H614"/>
<path d="M607,425V447M607,425H614M607,447H610"/>
<path d="M597,411V436M597,411H614M597,436H607"/>
<path d="M582,354V424M582,354H600M582,424H597"/>
</g>
<text x="818" y="344" style="font-size:9.5px">K4FHN8</text><text x="818" y="358" style="font-size:9.5px">Q0DUM6</text><text x="818" y="372" style="font-size:9.5px">Q6ERU3</text><text x="818" y="386" style="font-size:9.5px">Q67IX6</text><text x="818" y="400" style="font-size:9.5px">Q8H4M4</text><text x="818" y="414" style="font-size:9.5px">A1YQG3</text><text x="818" y="429" style="font-size:9.5px">Q10LT1</text><text x="818" y="443" style="font-size:9.5px">Q6ZBH2</text><text x="818" y="457" style="font-size:9.5px">A0A8K2AE55</text>
<path d="M615,467H680M683,467H747M750,467H813" stroke="#777" stroke-width="1.2"/>
<g text-anchor="middle"><text x="648" y="480" style="font-size:9.5px">WT</text><text class="i" x="715" y="480" style="font-size:9.5px">daat1</text><text x="781" y="480" style="font-size:9.5px">GC</text></g>

<!-- Panel H PCA -->
<rect x="930" y="330" width="163" height="125" fill="none" stroke="#666" stroke-width="1"/>
<path d="M1027.6,330V455M1060.2,330V455M930,355H1093M930,405H1093M930,430H1093M962.6,330V455" stroke="#eee" stroke-width=".8"/>
<path d="M995,330V455" stroke="#999" stroke-width="1"/>
<path d="M930,385.6H1093" stroke="#999" stroke-width="1" stroke-dasharray="2,1"/>
<g text-anchor="end"><text x="926" y="333" style="font-size:9.5px">4</text><text x="926" y="358" style="font-size:9.5px">2.2</text><text x="926" y="383" style="font-size:9.5px">0.4</text><text x="926" y="408" style="font-size:9.5px">-1.4</text><text x="926" y="433" style="font-size:9.5px">-3.2</text><text x="926" y="458" style="font-size:9.5px">-5</text></g>
<g text-anchor="middle"><text x="930" y="467" style="font-size:9.5px">-4</text><text x="962.6" y="467" style="font-size:9.5px">-2</text><text x="995" y="467" style="font-size:9.5px">0</text><text x="1027.6" y="467" style="font-size:9.5px">2</text><text x="1060.2" y="467" style="font-size:9.5px">4</text><text x="1093" y="467" style="font-size:9.5px">6</text>
<text x="1012" y="478" style="font-size:10px">PC1 (75%)</text></g>
<text transform="translate(909,392) rotate(-90)" text-anchor="middle" style="font-size:10px">PC2 (9%)</text>
<ellipse cx="963" cy="382" rx="16" ry="51" transform="rotate(-13 963 382)" fill="none" stroke="#8a8ee0" stroke-width="1.2"/>
<ellipse cx="969" cy="389" rx="14" ry="55" transform="rotate(8 969 389)" fill="none" stroke="#e0a060" stroke-width="1.2"/>
<ellipse cx="1054" cy="385" rx="32" ry="10" transform="rotate(18 1054 385)" fill="none" stroke="#a050b0" stroke-width="1.2"/>
<g fill="#e0a060"><circle cx="972" cy="369" r="1.8"/><circle cx="968" cy="372" r="1.8"/><circle cx="965" cy="376" r="1.8"/><circle cx="972" cy="390" r="1.8"/><circle cx="976" cy="389" r="1.8"/><circle cx="964" cy="399" r="1.8"/><circle cx="965" cy="410" r="1.8"/></g>
<g fill="#6a78d8"><circle cx="958" cy="363" r="1.8"/><circle cx="961" cy="376" r="1.8"/><circle cx="966" cy="373" r="1.8"/><circle cx="965" cy="382" r="1.8"/><circle cx="960" cy="397" r="1.8"/><circle cx="974" cy="400" r="1.8"/></g>
<g fill="#7a1f8c"><circle cx="1038" cy="383" r="1.8"/><circle cx="1047" cy="381" r="1.8"/><circle cx="1055" cy="379" r="1.8"/><circle cx="1054" cy="385" r="1.8"/><circle cx="1063" cy="389" r="1.8"/><circle cx="1061" cy="390" r="1.8"/></g>
<circle cx="1103" cy="336" r="3.5" fill="#e0a060"/><circle cx="1103" cy="347" r="3.5" fill="#8b2a9a"/><circle cx="1103" cy="358" r="3.5" fill="#6a78d8"/>
<text x="1109" y="339.5" style="font-size:10px">WT</text><text class="i" x="1109" y="350.5" style="font-size:10px">daat1</text><text x="1109" y="361.5" style="font-size:10px">GC</text>
</svg>

<div class="hm">
<i class="M"></i><i class="M"></i><i class="B"></i><i class="V"></i><i class="V"></i><i class="O1"></i><i class="V"></i><i class="O1"></i><i class="O"></i><i class="V"></i><i class="O"></i><i class="O"></i><i class="V"></i><i class="V"></i><i class="M"></i><i class="D"></i><i class="B"></i><i class="M"></i>
<i class="M"></i><i class="M"></i><i class="M"></i><i class="M"></i><i class="O1"></i><i class="B"></i><i class="O"></i><i class="R"></i><i class="V"></i><i class="O1"></i><i class="O"></i><i class="O"></i><i class="B"></i><i class="O1"></i><i class="B"></i><i class="M"></i><i class="B"></i><i class="M"></i>
<i class="V"></i><i class="B"></i><i class="B"></i><i class="M"></i><i class="B"></i><i class="B"></i><i class="O1"></i><i class="R"></i><i class="O1"></i><i class="O"></i><i class="O"></i><i class="O"></i><i class="M"></i><i class="M"></i><i class="M"></i><i class="M"></i><i class="M"></i><i class="M"></i>
<i class="B"></i><i class="M"></i><i class="B"></i><i class="M"></i><i class="B"></i><i class="M"></i><i class="O"></i><i class="O"></i><i class="O"></i><i class="O"></i><i class="O"></i><i class="O"></i><i class="M"></i><i class="M"></i><i class="M"></i><i class="M"></i><i class="B"></i><i class="M"></i>
<i class="M"></i><i class="M"></i><i class="M"></i><i class="M"></i><i class="M"></i><i class="M"></i><i class="O"></i><i class="O"></i><i class="O"></i><i class="O"></i><i class="O"></i><i class="O"></i><i class="M"></i><i class="M"></i><i class="M"></i><i class="M"></i><i class="M"></i><i class="M"></i>
<i class="R"></i><i class="O"></i><i class="M"></i><i class="B"></i><i class="O1"></i><i class="O1"></i><i class="M"></i><i class="M"></i><i class="M"></i><i class="M"></i><i class="M"></i><i class="M"></i><i class="V"></i><i class="O"></i><i class="O"></i><i class="M"></i><i class="V"></i><i class="B"></i>
<i class="V"></i><i class="B"></i><i class="V"></i><i class="O1"></i><i class="O"></i><i class="O1"></i><i class="B"></i><i class="M"></i><i class="D"></i><i class="M"></i><i class="D"></i><i class="M"></i><i class="O1"></i><i class="V"></i><i class="O1"></i><i class="O1"></i><i class="O"></i><i class="O1"></i>
<i class="O1"></i><i class="O1"></i><i class="O1"></i><i class="O1"></i><i class="O1"></i><i class="O1"></i><i class="V"></i><i class="D"></i><i class="M"></i><i class="M"></i><i class="M"></i><i class="M"></i><i class="O1"></i><i class="O1"></i><i class="O1"></i><i class="O1"></i><i class="V"></i><i class="O1"></i>
<i class="O1"></i><i class="O1"></i><i class="O1"></i><i class="O1"></i><i class="O1"></i><i class="O1"></i><i class="M"></i><i class="M"></i><i class="D"></i><i class="M"></i><i class="M"></i><i class="M"></i><i class="O1"></i><i class="O1"></i><i class="O1"></i><i class="O1"></i><i class="O1"></i><i class="O1"></i>
</div>
</body></html>
